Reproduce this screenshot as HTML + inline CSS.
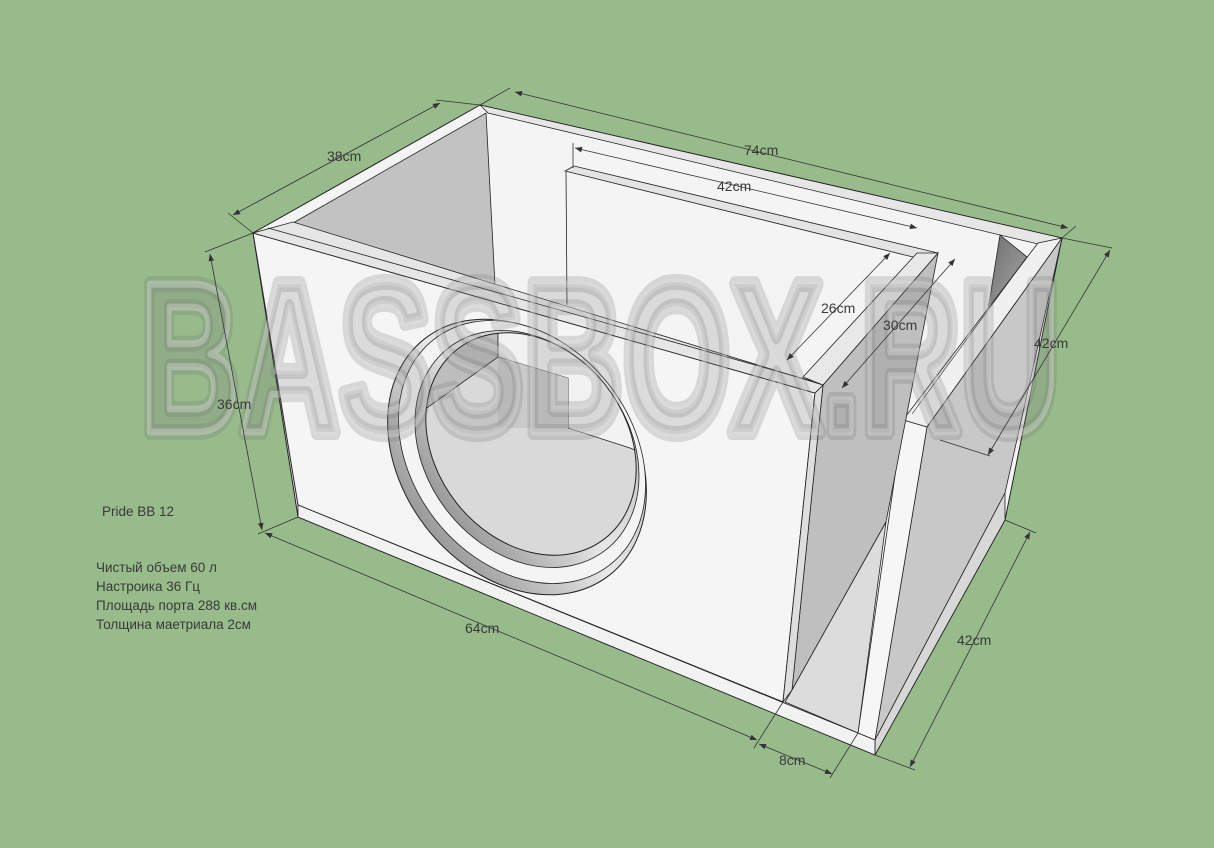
<!DOCTYPE html>
<html><head><meta charset="utf-8"><style>
html,body{margin:0;padding:0;background:#98bb8b;}
svg{display:block}
.t{font-family:"Liberation Sans",Arial,sans-serif;font-size:13.5px;fill:#3a3a3a}
.d{font-family:"Liberation Sans",Arial,sans-serif;font-size:14px;fill:#3a3a3a}
</style></head><body>
<svg width="1214" height="848" viewBox="0 0 1214 848" xmlns="http://www.w3.org/2000/svg">
<defs>
<marker id="a" viewBox="0 0 10 10" refX="10" refY="5" markerWidth="9" markerHeight="7" orient="auto-start-reverse" markerUnits="userSpaceOnUse"><path d="M0,1 L10,5 L0,9 Z" fill="#333"/></marker>
<linearGradient id="ring" x1="0" y1="0" x2="1" y2="0"><stop offset="0" stop-color="#9a9a9a"/><stop offset="0.5" stop-color="#e8e8e8"/><stop offset="1" stop-color="#bdbdbd"/></linearGradient>
<linearGradient id="dk" x1="0" y1="0" x2="1" y2="1"><stop offset="0" stop-color="#6e6e6e"/><stop offset="1" stop-color="#a8a8a8"/></linearGradient>
<clipPath id="hole"><ellipse cx="531" cy="444" rx="95" ry="120" transform="rotate(-38 531 444)"/></clipPath>
</defs>
<rect width="1214" height="848" fill="#98bb8b"/>

<polygon points="480,105 1062,238 1005,520 875,755 298,517 253,233" fill="#f4f4f4" stroke="#222" stroke-width="1"/>
<polygon points="480,105 1062,238 1038,244 488,113" fill="#e6e6e6" stroke="#222" stroke-width="0.8"/>
<polygon points="293,223 486,113 495,285 300,252" fill="#c2c2c2" stroke="#222" stroke-width="0.8"/>
<polygon points="565,171 574,166 938,253 917,258" fill="#e4e4e4" stroke="#222" stroke-width="0.8"/>
<line x1="566" y1="172" x2="567" y2="305" stroke="#222" stroke-width="0.8"/>
<polygon points="1000,235 1027,257 988,310" fill="url(#dk)" stroke="#222" stroke-width="0.8"/>
<polygon points="1038,243 1062,238 927,427 903,420" fill="#f0f0f0" stroke="#222" stroke-width="0.8"/>
<line x1="1027" y1="257" x2="912" y2="414" stroke="#222" stroke-width="0.6"/>
<polygon points="927,427 1062,238 1005,493 875,740" fill="#c8c8c8" stroke="#222" stroke-width="0.8"/>
<polygon points="1005,493 1005,520 875,755 875,740" fill="#d8d8d8" stroke="#222" stroke-width="0.8"/>
<polygon points="903,420 927,427 875,740 858,733" fill="#f6f6f6" stroke="#222" stroke-width="0.8"/>
<polygon points="823,385 938,253 886,522 792,690" fill="#bfbfbf" stroke="#222" stroke-width="0.8"/>
<polygon points="792,690 886,522 858,733 785,702" fill="#dcdcdc" stroke="#222" stroke-width="0.8"/>
<polygon points="803,377 917,253 938,253 823,385" fill="#e8e8e8" stroke="#222" stroke-width="0.8"/>
<polygon points="253,233 815,393 783,702 298,505" fill="#f5f5f5" stroke="#222" stroke-width="1"/>
<polygon points="815,393 823,385 792,690 783,702" fill="#dedede" stroke="#222" stroke-width="0.8"/>
<polygon points="253,233 293,222 823,385 815,393" fill="#e6e6e6" stroke="#222" stroke-width="0.8"/>
<line x1="268" y1="228" x2="812" y2="381" stroke="#222" stroke-width="0.8"/>
<polygon points="298,505 875,740 875,755 298,517" fill="#f2f2f2" stroke="#222" stroke-width="0.8"/>

<ellipse cx="517" cy="457" rx="115" ry="150" transform="rotate(-38 517 457)" fill="url(#ring)" stroke="#222" stroke-width="1"/>
<ellipse cx="522" cy="452" rx="110" ry="143" transform="rotate(-38 522 452)" fill="#f4f4f4" stroke="#222" stroke-width="0.8"/>
<ellipse cx="527" cy="449" rx="101" ry="128" transform="rotate(-38 527 449)" fill="url(#ring)" stroke="#222" stroke-width="0.8"/>
<g clip-path="url(#hole)">
<rect x="400" y="310" width="260" height="270" fill="#d9d9d9"/>
<polygon points="410,320 498,320 498,357 410,420" fill="#bdbdbd" stroke="#222" stroke-width="0.8"/>
<polygon points="498,320 660,320 660,460 630,448 568,428 568,378 498,357" fill="#f2f2f2" stroke="#222" stroke-width="0.8"/>
<polygon points="498,357 568,378 568,428 498,428" fill="#cacaca"/>
</g>
<ellipse cx="531" cy="444" rx="95" ry="120" transform="rotate(-38 531 444)" fill="none" stroke="#222" stroke-width="1"/>

<!-- watermark -->
<text x="140" y="432" textLength="920" lengthAdjust="spacingAndGlyphs" font-family="Liberation Sans, sans-serif" font-weight="bold" font-size="215" fill="rgba(120,120,120,0.12)" stroke="rgba(110,110,110,0.22)" stroke-width="16" stroke-linejoin="round">BASSBOX.RU</text>
<text x="140" y="432" textLength="920" lengthAdjust="spacingAndGlyphs" font-family="Liberation Sans, sans-serif" font-weight="bold" font-size="215" fill="rgba(130,130,130,0.1)" stroke="rgba(225,225,225,0.35)" stroke-width="7" stroke-linejoin="round">BASSBOX.RU</text>

<g stroke="#333" stroke-width="0.8" fill="none">
<line x1="480" y1="105" x2="510" y2="88"/><line x1="1062" y1="238" x2="1076" y2="226"/>
<line x1="515" y1="92" x2="1068" y2="228" marker-start="url(#a)" marker-end="url(#a)"/>
<line x1="253" y1="233" x2="228" y2="213"/><line x1="480" y1="105" x2="436" y2="100"/>
<line x1="233" y1="215" x2="440" y2="103" marker-start="url(#a)" marker-end="url(#a)"/>
<line x1="573" y1="143" x2="573" y2="168"/>
<line x1="575" y1="148" x2="917" y2="228" marker-start="url(#a)" marker-end="url(#a)"/>
<line x1="787" y1="360" x2="890" y2="253" marker-start="url(#a)" marker-end="url(#a)"/>
<line x1="842" y1="388" x2="955" y2="259" marker-start="url(#a)" marker-end="url(#a)"/>
<line x1="1062" y1="238" x2="1112" y2="248"/><line x1="940" y1="440" x2="990" y2="456"/>
<line x1="988" y1="455" x2="1110" y2="250" marker-start="url(#a)" marker-end="url(#a)"/>
<line x1="253" y1="233" x2="205" y2="252"/><line x1="298" y1="517" x2="258" y2="534"/>
<line x1="262" y1="530" x2="210" y2="254" marker-start="url(#a)" marker-end="url(#a)"/>
<line x1="265" y1="533" x2="757" y2="740" marker-start="url(#a)" marker-end="url(#a)"/>
<line x1="783" y1="702" x2="754" y2="748"/><line x1="858" y1="733" x2="830" y2="778"/>
<line x1="759" y1="744" x2="832" y2="774" marker-start="url(#a)" marker-end="url(#a)"/>
<line x1="875" y1="755" x2="915" y2="770"/><line x1="1005" y1="520" x2="1036" y2="533"/>
<line x1="910" y1="767" x2="1030" y2="532" marker-start="url(#a)" marker-end="url(#a)"/>
</g>
<g class="d">
<text x="744" y="155">74cm</text>
<text x="327" y="161">38cm</text>
<text x="717" y="191">42cm</text>
<text x="821" y="313">26cm</text>
<text x="883" y="330">30cm</text>
<text x="1034" y="348">42cm</text>
<text x="217" y="409">36cm</text>
<text x="465" y="633">64cm</text>
<text x="779" y="765">8cm</text>
<text x="957" y="645">42cm</text>
</g>
<g class="t">
<text x="102" y="516">Pride BB 12</text>
<text x="96" y="572">Чистый объем 60 л</text>
<text x="96" y="591">Настроика 36 Гц</text>
<text x="96" y="610">Площадь порта 288 кв.см</text>
<text x="96" y="629">Толщина маетриала 2см</text>
</g>
</svg>
</body></html>
